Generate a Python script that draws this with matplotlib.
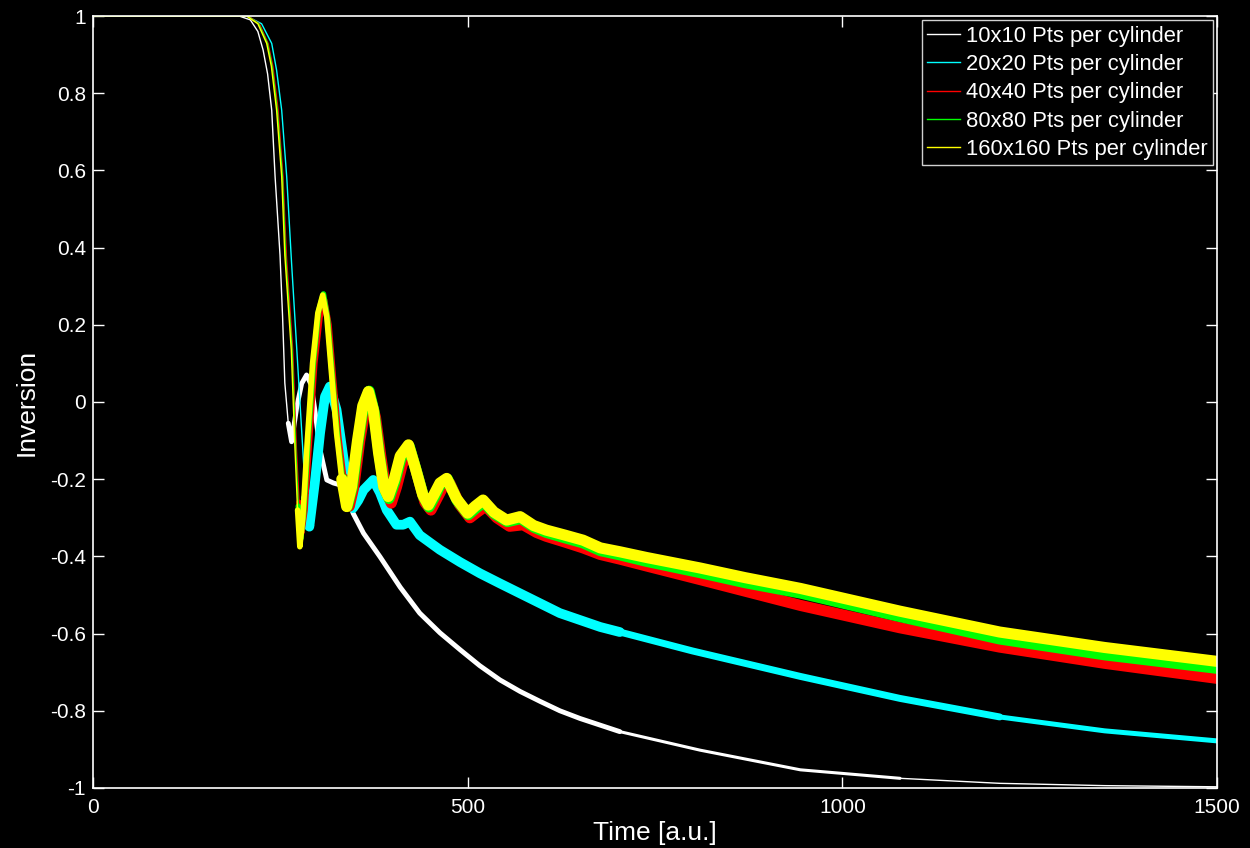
import matplotlib
matplotlib.use("Agg")
import matplotlib.pyplot as plt
from matplotlib.lines import Line2D

plt.rcParams['font.family'] = ['Liberation Sans', 'DejaVu Sans']
plt.rcParams['axes.unicode_minus'] = False

# 10x10 Pts per cylinder
t_10 = [0, 195, 210, 220, 227, 233, 238.5, 243, 249.6, 253, 256, 260.6, 265, 272, 278.5, 285, 291,
        296, 303, 312, 321, 330, 338.5, 347, 361, 383, 410, 436, 463, 490, 516, 543, 570, 597, 623,
        650, 703, 810, 944, 1077, 1210, 1350, 1500]
v_10 = [1, 1, 0.99, 0.96, 0.912, 0.85, 0.756, 0.584, 0.38, 0.221, 0.049, -0.055, -0.103, -0.012,
        0.048, 0.07, 0.045, -0.02, -0.124, -0.202, -0.21, -0.215, -0.228, -0.288, -0.34, -0.401,
        -0.48, -0.547, -0.598, -0.642, -0.683, -0.72, -0.75, -0.776, -0.80, -0.82, -0.854, -0.902,
        -0.953, -0.975, -0.988, -0.994, -0.997]

# 20x20 Pts per cylinder
t_20 = [0, 205, 225, 238.5, 245, 251.8, 258.5, 265, 272, 280, 284, 288.7, 296, 303, 309.6, 316, 325,
        334, 341, 347, 354, 361, 374, 383, 392, 405, 414, 423, 436, 463, 490, 516.5, 543, 570, 623,
        677, 703, 800, 944, 1077, 1210, 1350, 1500]
v_20 = [1, 1, 0.98, 0.929, 0.86, 0.756, 0.584, 0.36, 0.135, -0.124, -0.25, -0.323, -0.21, -0.081,
        0.014, 0.04, -0.02, -0.142, -0.237, -0.275, -0.255, -0.228, -0.202, -0.235, -0.28, -0.318,
        -0.318, -0.31, -0.345, -0.383, -0.415, -0.444, -0.47, -0.496, -0.547, -0.583, -0.596, -0.645,
        -0.711, -0.768, -0.816, -0.852, -0.878]

# 40x40 Pts per cylinder
t_40 = [0, 207, 222, 233.5, 240, 247, 253.5, 258, 266.5, 271.5, 275, 278.5, 283, 289, 296, 303, 309,
        315, 321, 328, 335, 342, 348, 356, 363, 370, 377, 384, 391, 398, 405, 413, 424, 433, 443, 451,
        459, 467, 476, 489, 503, 513, 524, 539, 556, 574, 592, 605, 630, 654, 677, 703, 739, 810, 870,
        944, 1077, 1210, 1350, 1500]
v_40 = [1, 1, 0.98, 0.929, 0.87, 0.756, 0.584, 0.38, 0.135, -0.124, -0.26, -0.34, -0.28, -0.1, 0.1,
        0.22, 0.265, 0.2, 0.06, -0.09, -0.2, -0.27, -0.22, -0.1, -0.02, 0.01, -0.04, -0.14, -0.23,
        -0.262, -0.22, -0.16, -0.13, -0.19, -0.26, -0.28, -0.25, -0.22, -0.21, -0.265, -0.3, -0.285,
        -0.27, -0.3, -0.322, -0.318, -0.338, -0.348, -0.363, -0.378, -0.395, -0.407, -0.425, -0.46,
        -0.49, -0.527, -0.585, -0.635, -0.677, -0.716]

# 80x80 Pts per cylinder
t_80 = [0, 206, 221, 232.8, 239, 246, 252.8, 257, 265.6, 270.6, 274, 277, 281, 287, 294, 301, 307.5,
        313, 319, 326, 333, 339.5, 346, 354, 361, 368.5, 375, 382, 389, 395, 403, 411, 422, 431, 441,
        448.5, 456, 464, 473, 486, 501, 511, 521.5, 536, 553, 571, 589, 605, 630, 654, 677, 703, 739,
        810, 870, 944, 1077, 1210, 1350, 1500]
v_80 = [1, 1, 0.98, 0.929, 0.87, 0.756, 0.584, 0.38, 0.135, -0.124, -0.27, -0.355, -0.29, -0.1,
        0.1, 0.235, 0.28, 0.215, 0.075, -0.085, -0.2, -0.27, -0.22, -0.1, -0.01, 0.028, -0.025,
        -0.135, -0.225, -0.25, -0.205, -0.145, -0.115, -0.175, -0.245, -0.272, -0.245, -0.212, -0.2,
        -0.255, -0.292, -0.275, -0.26, -0.29, -0.31, -0.302, -0.325, -0.338, -0.352, -0.365, -0.385,
        -0.396, -0.413, -0.442, -0.468, -0.495, -0.556, -0.614, -0.655, -0.69]

# 160x160 Pts per cylinder
t_160 = [0, 205, 220, 231.8, 238, 245, 251.8, 256, 264.6, 269.6, 273, 276, 280, 286, 293, 300, 306.5,
         312, 318, 325, 332, 338.5, 345, 353, 360, 367.5, 374, 381, 388, 394, 402, 410, 421, 430, 440,
         447.5, 455, 463, 472, 485, 500, 510, 520.5, 535, 552, 570, 588, 605, 630, 654, 677, 703, 739,
         810, 870, 944, 1077, 1210, 1350, 1500]
v_160 = [1, 1, 0.98, 0.929, 0.87, 0.756, 0.584, 0.38, 0.135, -0.124, -0.28, -0.375, -0.3, -0.1, 0.1,
         0.23, 0.277, 0.22, 0.08, -0.08, -0.2, -0.271, -0.22, -0.1, -0.01, 0.027, -0.02, -0.13, -0.22,
         -0.245, -0.2, -0.14, -0.111, -0.17, -0.24, -0.267, -0.24, -0.21, -0.198, -0.25, -0.288, -0.27,
         -0.254, -0.285, -0.306, -0.297, -0.32, -0.332, -0.345, -0.358, -0.378, -0.388, -0.403, -0.43,
         -0.455, -0.483, -0.542, -0.596, -0.636, -0.672]

labels = ['10x10 Pts per cylinder', '20x20 Pts per cylinder', '40x40 Pts per cylinder',
          '80x80 Pts per cylinder', '160x160 Pts per cylinder']
colors = ['white', '#00ffff', '#ff0000', '#00ff00', '#ffff00']


def draw(ax, t, v, color, parts):
    # the curves get thicker once the fast oscillation sets in
    for t0, t1, lw in parts:
        idx = [i for i, x in enumerate(t) if t0 <= x <= t1]
        ax.plot([t[i] for i in idx], [v[i] for i in idx], color=color, lw=lw,
                solid_capstyle='round', solid_joinstyle='round')


fig = plt.figure(figsize=(12.5, 8.48), dpi=100, facecolor='black')
ax = fig.add_axes([0.0744, 0.0708, 0.8992, 0.9103], facecolor='black')

draw(ax, t_10, v_10, colors[0], [(0, 260.6, 1.0), (260.6, 703, 3.5), (703, 1077, 2.2), (1077, 1500, 1.0)])
draw(ax, t_20, v_20, colors[1], [(0, 284, 1.0), (284, 703, 7.0), (703, 1210, 5.0), (1210, 1500, 3.6)])
draw(ax, t_40, v_40, colors[2], [(0, 275, 1.0), (275, 335, 4.0), (335, 1500, 8.0)])
draw(ax, t_80, v_80, colors[3], [(0, 274, 1.0), (274, 333, 4.0), (333, 1500, 8.0)])
draw(ax, t_160, v_160, colors[4], [(0, 273, 1.0), (273, 332, 4.0), (332, 1500, 8.0)])

ax.set_xlim(0, 1500)
ax.set_ylim(-1, 1)
ax.set_xticks([0, 500, 1000, 1500])
yt = [-1, -0.8, -0.6, -0.4, -0.2, 0, 0.2, 0.4, 0.6, 0.8, 1]
ax.set_yticks(yt)
ax.set_yticklabels(['-1', '-0.8', '-0.6', '-0.4', '-0.2', '0', '0.2', '0.4', '0.6', '0.8', '1'])
ax.tick_params(direction='in', top=True, right=True, colors='white', length=8, width=1,
               labelsize=15)
ax.tick_params(axis='x', pad=7)
ax.tick_params(axis='y', pad=5)
for s in ax.spines.values():
    s.set_color('white')
    s.set_linewidth(1.2)

ax.set_xlabel('Time [a.u.]', color='white', fontsize=19, labelpad=3)
ax.set_ylabel('Inversion', color='white', fontsize=19, labelpad=8)

handles = [Line2D([0], [0], color=c, lw=1) for c in colors]
leg = ax.legend(handles, labels, loc='upper right', fontsize=15.8, frameon=True, fancybox=False,
                facecolor='black', edgecolor='#d0d0d0', framealpha=1, labelcolor='white',
                handlelength=1.5, handletextpad=0.25, labelspacing=0.33, borderaxespad=0.2,
                borderpad=0.25)
leg.get_frame().set_linewidth(1.0)

fig.savefig('out.png', dpi=100, facecolor='black')
